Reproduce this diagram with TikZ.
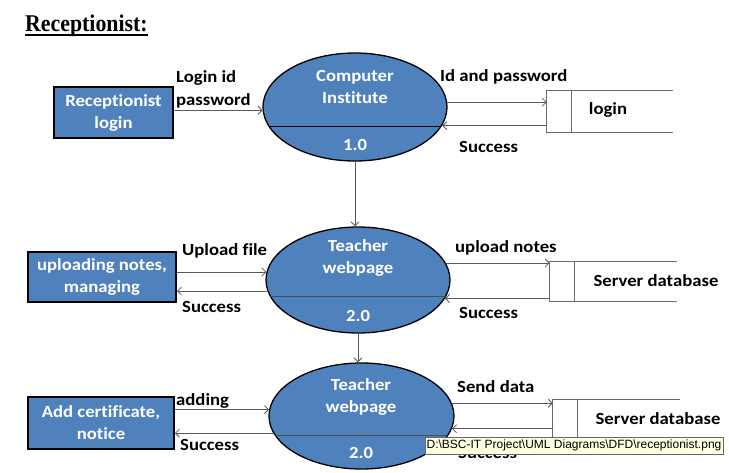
\documentclass[tikz,border=0pt]{standalone}
\usepackage{fontspec}
\usetikzlibrary{shapes.geometric,arrows.meta}
\newfontfamily\calfont{Carlito}[FakeStretch=1.1, RawFeature={-liga;-clig}]
\newfontfamily\titlefont{Liberation Serif}[FakeStretch=0.91]
\newfontfamily\tipfont{Liberation Sans}
\definecolor{procblue}{HTML}{4F81BD}
\definecolor{flowgray}{HTML}{5A5A5A}
\definecolor{tipyellow}{HTML}{FFFFE1}
\tikzset{
  proc/.style={ellipse, draw=black, line width=1.3pt, fill=procblue, inner sep=0pt},
  ent/.style={rectangle, draw=black, line width=1.8pt, fill=procblue, inner sep=0pt},
  intext/.style={font=\calfont\bfseries\fontsize{17}{22}\selectfont, text=white, align=center, inner sep=0pt},
  lbl/.style={font=\calfont\bfseries\fontsize{17}{22}\selectfont, text=black, inner sep=0pt, anchor=west},
  storetext/.style={font=\calfont\bfseries\fontsize{17}{22}\selectfont, text=black, inner sep=0pt},
  storeframe/.style={rectangle, inner sep=0pt},
  storeline/.style={draw=gray!85!black, line width=0.8pt},
  flow/.style={draw=flowgray, line width=0.8pt, -{Straight Barb[length=4pt,width=8pt]}},
}
\begin{document}
\begin{tikzpicture}[x=1pt,y=-1pt]
\useasboundingbox (0,0) rectangle (729,472);
\clip (0,0) rectangle (729,472);
% title
\node[inner sep=0pt, anchor=base west, font=\titlefont\bfseries\fontsize{24}{26}\selectfont] (title) at (25,31) {Receptionist:};
\draw[line width=1.4pt] ([yshift=-4pt]title.base west) -- ([yshift=-4pt]title.base east);
% processes
\node[proc, minimum width=184pt, minimum height=108pt] (e1) at (355,107) {};
\node[proc, minimum width=184pt, minimum height=106pt] (e2) at (358,280) {};
\node[proc, minimum width=185pt, minimum height=106pt] (e3) at (361.5,416) {};
\begin{scope}
  \clip (e1.center) ellipse [x radius=92pt, y radius=54pt];
  \draw[line width=1pt] (e1.west |- 0,126) -- (e1.east |- 0,126);
\end{scope}
\begin{scope}
  \clip (e2.center) ellipse [x radius=92pt, y radius=53pt];
  \draw[line width=1pt, draw=black!70] (e2.west |- 0,296) -- (e2.east |- 0,296);
\end{scope}
\begin{scope}
  \clip (e3.center) ellipse [x radius=92.5pt, y radius=53pt];
  \draw[line width=1pt, draw=black!70] (e3.west |- 0,435) -- (e3.east |- 0,435);
\end{scope}
\node[intext] (t1) at (355,87) {Computer\\Institute};
\node[intext] (n1) at (355,145) {1.0};
\node[intext] (t2) at (358,258) {Teacher\\webpage};
\node[intext] (n2) at (358,316) {2.0};
\node[intext] (t3) at (361,397) {Teacher\\webpage};
\node[intext] (n3) at (361,453) {2.0};
% entities
\node[ent, minimum width=119pt, minimum height=51pt] (b1) at (113.5,112.5) {};
\node[ent, minimum width=148pt, minimum height=50pt] (b2) at (102,277) {};
\node[ent, minimum width=146pt, minimum height=52pt] (b3) at (101,423) {};
\node[intext] at (b1) {Receptionist\\login};
\node[intext] at (b2) {uploading notes,\\managing};
\node[intext] at (b3) {Add certificate,\\notice};
% stores
\node[storeframe, minimum width=126pt, minimum height=41pt] (s1) at (610,111.5) {};
\node[storeframe, minimum width=127pt, minimum height=40pt] (s2) at (613.5,281.5) {};
\node[storeframe, minimum width=127pt, minimum height=41pt] (s3) at (616.5,420.5) {};
\foreach \s in {s1,s2,s3}{
  \draw[storeline] (\s.north east) -- (\s.north west) -- (\s.south west) -- (\s.south east);
  \draw[storeline] ([xshift=25pt]\s.north west) -- ([xshift=25pt]\s.south west);
}
\node[storetext] (st1) at (608,110) {login};
\node[storetext] (st2) at (656,281) {Server database};
\node[storetext] (st3) at (658,419) {Server database};
% flows level 1
\draw[flow] (b1.east |- e1.-178) -- (e1.-178);
\draw[flow] (e1.3) -- (s1.west |- e1.3);
\draw[flow] (s1.west |- e1.-12.5) -- (e1.-12.5);
\draw[flow] (e1.south) -- (e1.south |- e2.north);
% flows level 2
\draw[flow] (b2.east |- e2.175) -- (e2.175);
\draw[flow] (e2.187.6) -- (b2.east |- e2.187.6);
\draw[flow] (e2.11) -- (s2.west |- e2.11);
\draw[flow] (s2.west |- e2.-12) -- (e2.-12);
\draw[flow] (e2.south) -- (e2.south |- e3.north);
% flows level 3
\draw[flow] (b3.east |- e3.176.2) -- (e3.176.2);
\draw[flow] (e3.-169.7) -- (b3.east |- e3.-169.7);
\draw[flow] (e3.8.2) -- (s3.west |- e3.8.2);
\draw[flow] (s3.west |- e3.-8.9) -- (e3.-8.9);
% labels
\node[lbl] (l1a) at (176,78) {Login id};
\node[lbl] (l1b) at (176,101) {password};
\node[lbl] (l1c) at (440,77) {Id and password};
\node[lbl] (l1d) at (459,147) {Success};
\node[lbl] (l2a) at (182,251) {Upload file};
\node[lbl] (l2b) at (182,307) {Success};
\node[lbl] (l2c) at (455,248) {upload notes};
\node[lbl] (l2d) at (459,313) {Success};
\node[lbl] (l3a) at (176,401) {adding};
\node[lbl] (l3b) at (180,445) {Success};
\node[lbl] (l3c) at (457,387) {Send data};
\node[lbl] (l3d) at (458,453) {Success};
% tooltip
\node[rectangle, draw=black!60, fill=tipyellow, line width=0.6pt, minimum width=298pt, minimum height=17pt, inner sep=0pt, font=\tipfont\fontsize{12}{13}\selectfont] (tip) at (574,445.5) {D:\textbackslash BSC-IT Project\textbackslash UML Diagrams\textbackslash DFD\textbackslash receptionist.png};
\end{tikzpicture}
\end{document}
